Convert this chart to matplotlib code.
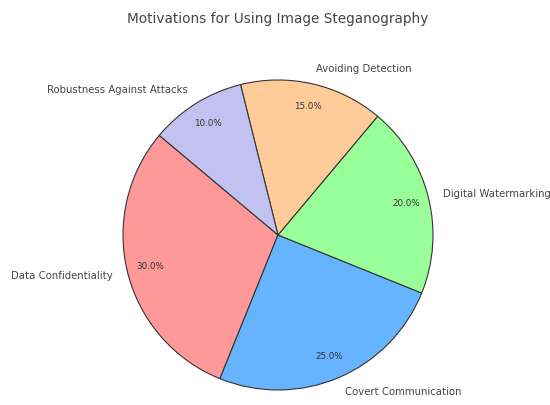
import matplotlib.pyplot as plt

labels = ['Data Confidentiality', 'Covert Communication', 'Digital Watermarking',
          'Avoiding Detection', 'Robustness Against Attacks']
sizes = [30, 25, 20, 15, 10]
colors = ['#ff9999', '#66b3ff', '#99ff99', '#ffcc99', '#c2c2f0']

fig = plt.figure(figsize=(5.5, 4.05), dpi=100)
ax = fig.add_axes([0.1532, -0.0586, 0.7045, 0.9568])

wedges, texts, autotexts = ax.pie(
    sizes, labels=labels, colors=colors, autopct='%1.1f%%',
    startangle=140, pctdistance=0.85,
    wedgeprops={'edgecolor': '#333333', 'linewidth': 0.8},
    textprops={'fontsize': 7.3, 'color': '#444444'})
for t in autotexts:
    t.set_fontsize(6.3)
    t.set_color('#333333')
ax.set_aspect('equal')

fig.text(0.505, 0.953, 'Motivations for Using Image Steganography',
         ha='center', va='center', fontsize=9.8, color='#444444')

fig.savefig('out.png', dpi=100)
